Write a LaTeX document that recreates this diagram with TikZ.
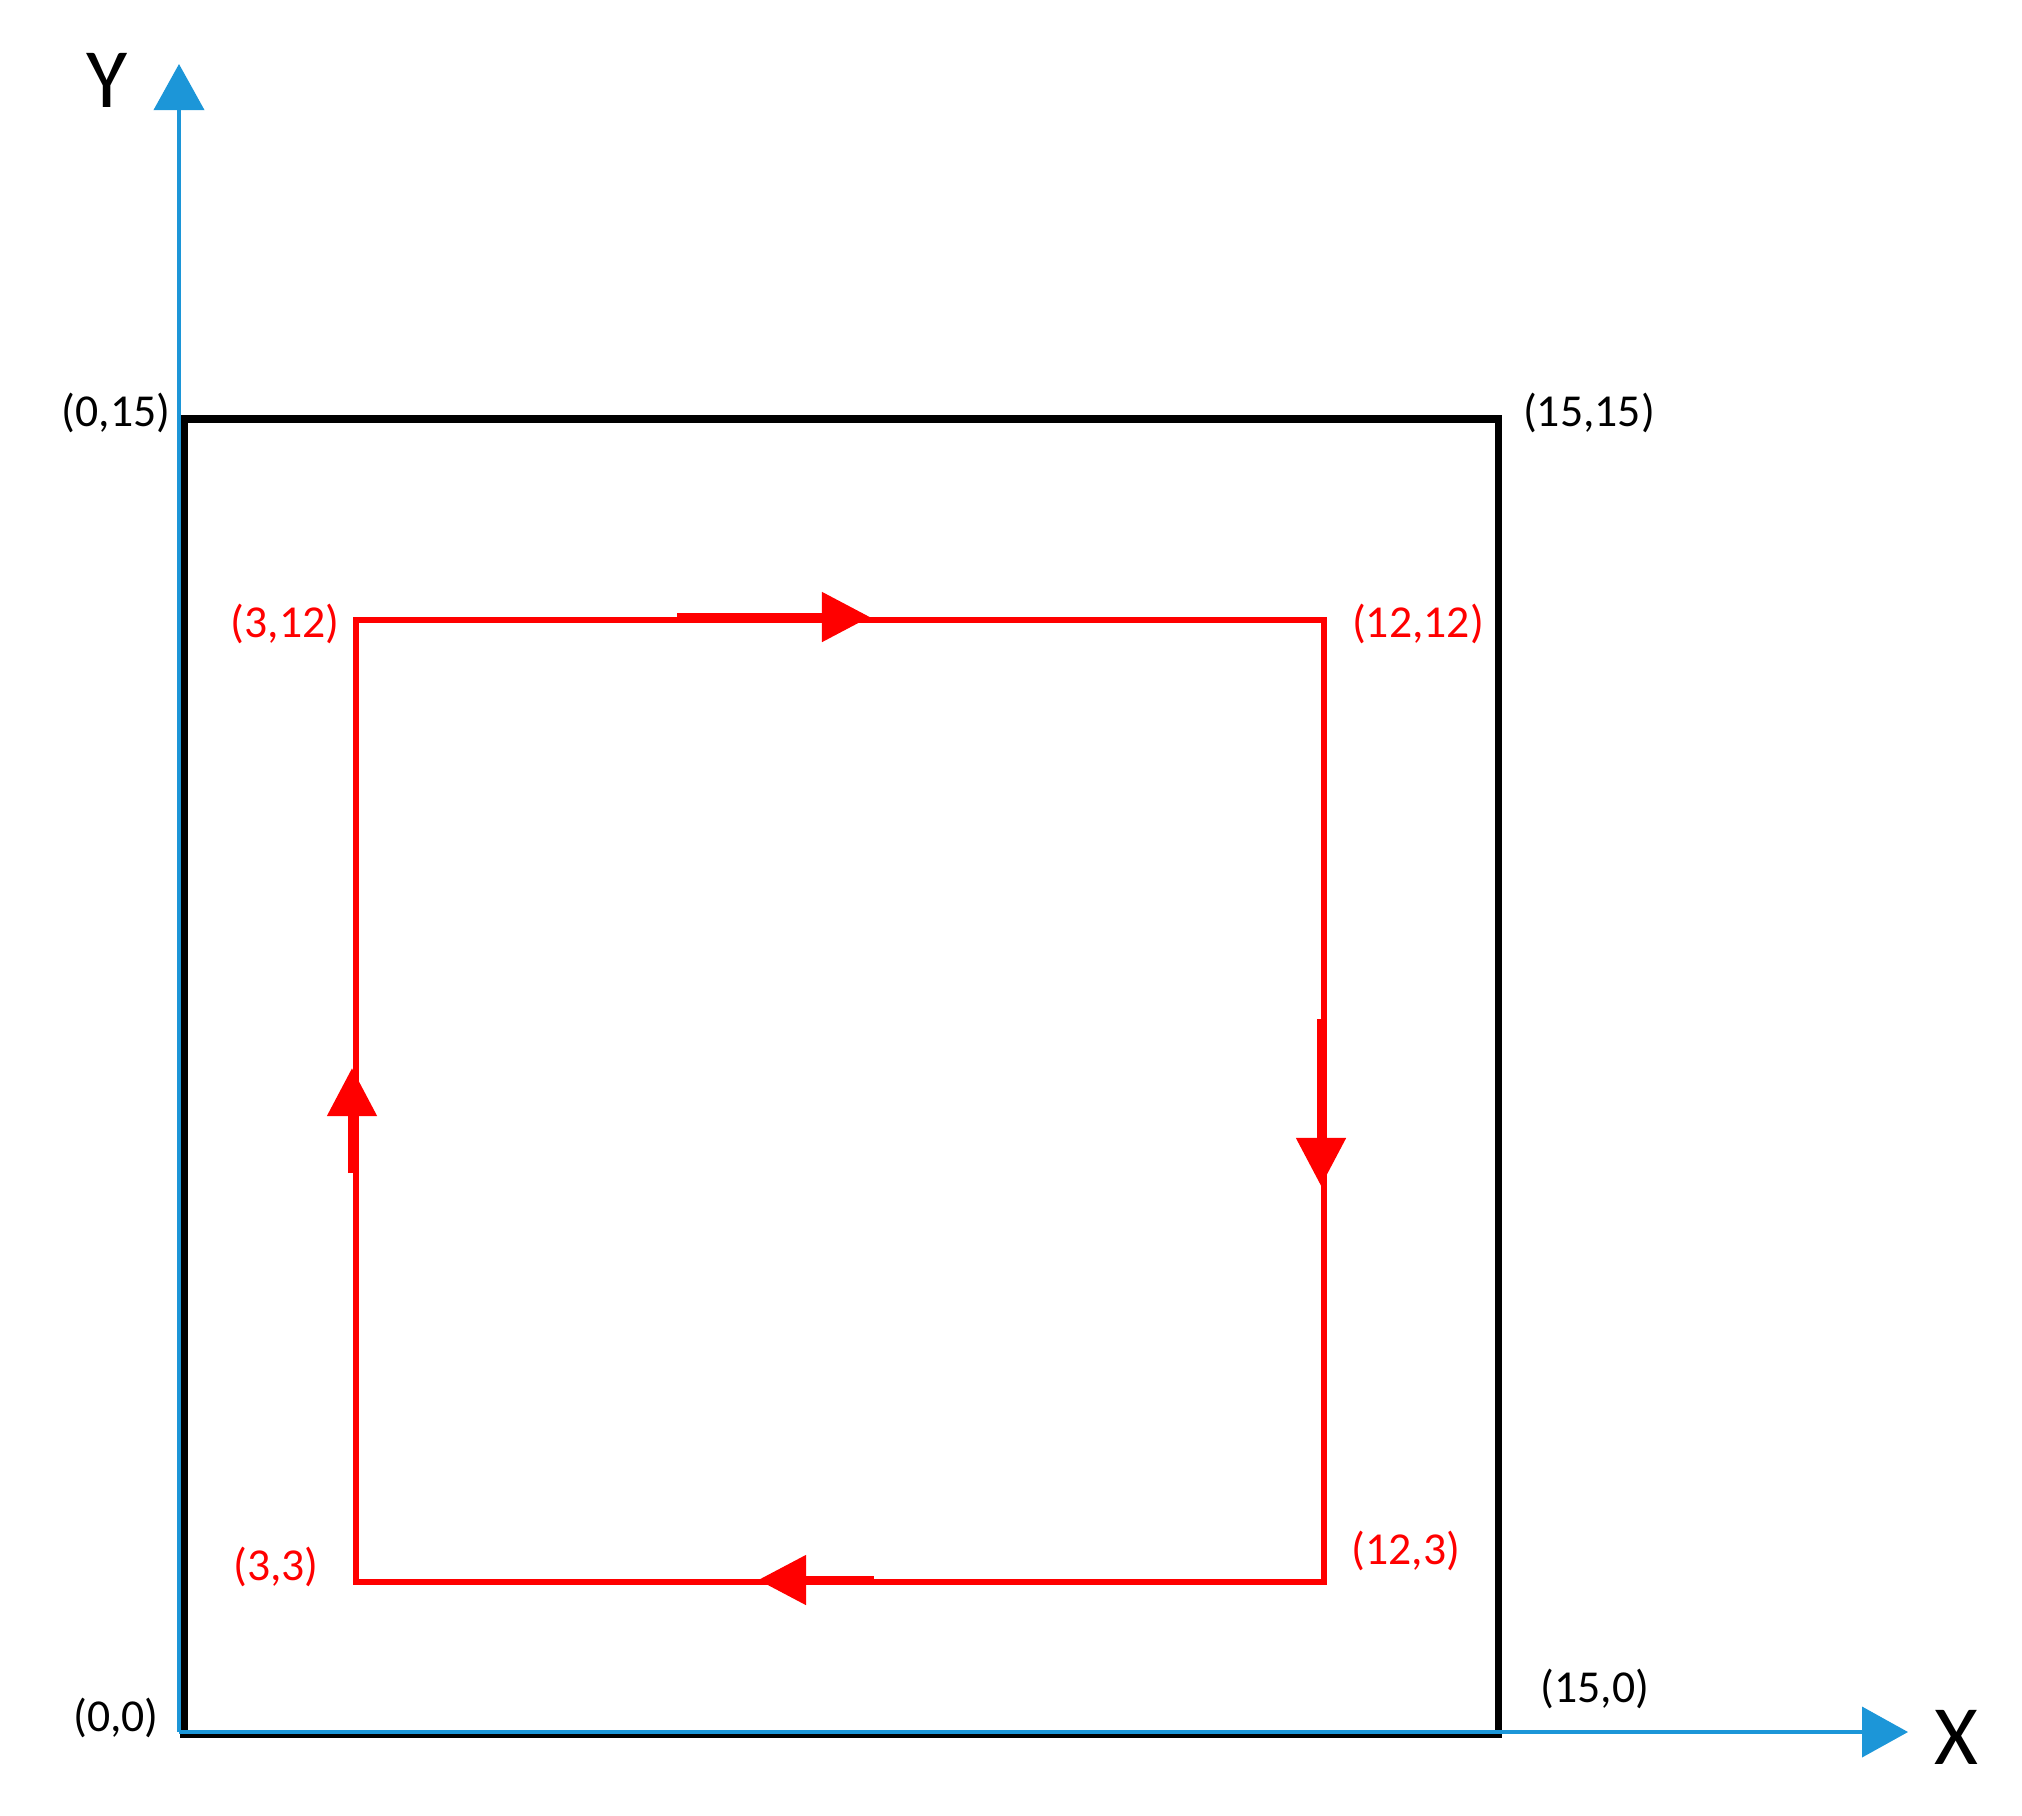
\documentclass[tikz,border=0pt]{standalone}
\usepackage{fontspec}
\setmainfont{Carlito}
\usetikzlibrary{arrows.meta}
\definecolor{axisblue}{RGB}{28,150,216}
\definecolor{loopred}{RGB}{255,0,0}

\begin{document}
\begin{tikzpicture}[x=0.01cm,y=-0.01cm,
    axis/.style={axisblue,line width=1.1pt,-{Triangle[length=0.46cm,width=0.5cm]}},
    box/.style={black,line width=2pt},
    loopline/.style={loopred,line width=1.8pt},
    looparrow/.style={loopred,line width=2.3pt,-{Triangle[length=0.48cm,width=0.48cm]}},
    corner/.style={font=\fontsize{13}{15}\selectfont,inner sep=0pt},
    axlabel/.style={font=\fontsize{24}{28}\selectfont,inner sep=0pt}]
  \useasboundingbox (0,0) rectangle (2022,1815);

  % outer square
  \coordinate (b00) at (184,1734);
  \coordinate (b150) at (1498,1734);
  \coordinate (b1515) at (1498,419);
  \coordinate (b015) at (184,419);
  \draw[box] (b00) -- (b150) -- (b1515) -- (b015) -- cycle;

  % axes
  \coordinate (O) at (179,1732);
  \coordinate (ytip) at (179,64);
  \coordinate (xtip) at (1908,1732);
  \draw[axis] (O) -- (ytip);
  \draw[axis] (O) -- (xtip);
  \node[axlabel] (ylab) at (107,80) {Y};
  \node[axlabel] (xlab) at (1956,1737) {X};

  \node[corner] (l015) at (116,413) {(0,15)};
  \node[corner] (l1515) at (1589,413) {(15,15)};
  \node[corner] (l00) at (116,1718) {(0,0)};
  \node[corner] (l150) at (1595,1689) {(15,0)};

  % red loop
  \coordinate (r33) at (356,1582);
  \coordinate (r312) at (356,620);
  \coordinate (r1212) at (1324,620);
  \coordinate (r123) at (1324,1582);
  \draw[loopline] (r33) -- (r312) -- (r1212) -- (r123) -- cycle;

  \coordinate (topa) at (677,617);
  \coordinate (topb) at (870,617);
  \coordinate (rgta) at (1321,1019);
  \coordinate (rgtb) at (1321,1186);
  \coordinate (bota) at (874,1580);
  \coordinate (botb) at (758,1580);
  \coordinate (lfta) at (352,1173);
  \coordinate (lftb) at (352,1068);
  \draw[looparrow] (topa) -- (topb);
  \draw[looparrow] (rgta) -- (rgtb);
  \draw[looparrow] (bota) -- (botb);
  \draw[looparrow] (lfta) -- (lftb);

  \node[corner,text=loopred] (l312) at (285,624) {(3,12)};
  \node[corner,text=loopred] (l1212) at (1418,624) {(12,12)};
  \node[corner,text=loopred] (l33) at (276,1567) {(3,3)};
  \node[corner,text=loopred] (l123) at (1406,1551) {(12,3)};
\end{tikzpicture}
\end{document}
